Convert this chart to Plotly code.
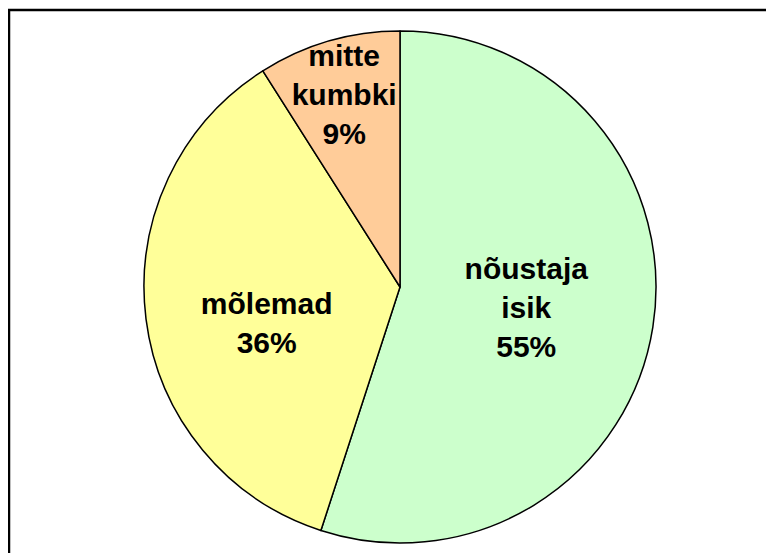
import plotly.graph_objects as go

labels = ["nõustaja<br>isik", "mõlemad", "mitte<br>kumbki"]
values = [55, 36, 9]
colors = ["#CCFFCC", "#FFFF99", "#FFCC99"]

W, H = 774, 553
OFF = 8  # page body margin

fig = go.Figure(go.Pie(
    labels=labels,
    values=values,
    sort=False,
    direction="clockwise",
    rotation=0,
    marker=dict(colors=colors, line=dict(color="black", width=1.5)),
    texttemplate=["%{label}<br>%{percent:.0%}",
                  " <br>%{label}<br>%{percent:.0%}",
                  "%{label}<br>%{percent:.0%}"],
    textposition="inside",
    insidetextorientation="horizontal",
    textfont=dict(family="Liberation Sans, Arial, sans-serif", size=30, color="black", weight="bold"),
    hoverinfo="skip",
    showlegend=False,
    domain=dict(x=[(144 - OFF) / W, (656 - OFF) / W],
                y=[1 - (543 - OFF) / H, 1 - (31 - OFF) / H]),
))

fig.update_layout(
    width=W, height=H,
    margin=dict(l=0, r=0, t=0, b=0),
    paper_bgcolor="white",
    plot_bgcolor="white",
    uniformtext=dict(minsize=30, mode="show"),
    shapes=[dict(
        type="rect", xref="paper", yref="paper",
        x0=(9 - OFF) / W, x1=1.05, y0=-0.05, y1=1 - (10 - OFF) / H,
        line=dict(color="black", width=2.5), fillcolor="rgba(0,0,0,0)", layer="above",
    )],
)

fig.write_html("out.html")
